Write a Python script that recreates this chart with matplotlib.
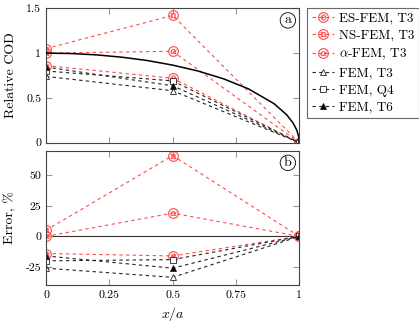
import matplotlib
matplotlib.use("Agg")
import matplotlib.pyplot as plt
from matplotlib.legend_handler import HandlerTuple

plt.rcParams['font.family'] = 'serif'
plt.rcParams['font.serif'] = ['cmr10', 'DejaVu Serif']
plt.rcParams['mathtext.fontset'] = 'cm'
plt.rcParams['axes.unicode_minus'] = False
plt.rcParams['axes.formatter.use_mathtext'] = True

# ---- data ----
x_pts = [0, 0.5, 1]
x_exact = [0, 0.1, 0.2, 0.3, 0.4, 0.5, 0.6, 0.7, 0.8, 0.9, 0.95, 0.975, 0.99, 0.998, 1.0]
cod_exact = [1.0, 0.995, 0.98, 0.954, 0.917, 0.866, 0.8, 0.714, 0.6, 0.436, 0.312, 0.222, 0.141, 0.063, 0.0]

cod_es = [0.86, 0.72, 0]
cod_ns = [1.05, 1.42, 0]
cod_alpha = [1.0, 1.02, 0]
cod_t3 = [0.74, 0.58, 0]
cod_q4 = [0.80, 0.69, 0]
cod_t6 = [0.845, 0.635, 0]

err_es = [-14, -16, 0]
err_ns = [5, 66, 0]
err_alpha = [0, 19, 0]
err_t3 = [-26, -33.5, 0]
err_q4 = [-20, -19, 0]
err_t6 = [-16, -26, 0]

labels = ['ES-FEM, T3', 'NS-FEM, T3', r'$\alpha$-FEM, T3', 'FEM, T3', 'FEM, Q4', 'FEM, T6']
x_ticks = [0, 0.25, 0.5, 0.75, 1]
x_ticklabels = ['0', '0.25', '0.5', '0.75', '1']
top_yticks = [0, 0.5, 1, 1.5]
top_yticklabels = ['0', '0.5', '1', '1.5']
bot_yticks = [-25, 0, 25, 50]
bot_yticklabels = ['-25', '0', '25', '50']

RED = '#ff4a4a'
DASH = (0, (3, 3))

fig = plt.figure(figsize=(4.19, 3.24), dpi=100)
ax1 = fig.add_axes([0.1098, 0.5596, 0.6045, 0.4148])
ax2 = fig.add_axes([0.1098, 0.1194, 0.6045, 0.4154])

def red_series(ax, y, letter):
    l1, = ax.plot(x_pts, y, linestyle=DASH, color=RED, lw=0.8, marker='o',
                  markersize=7, markerfacecolor='none', markeredgecolor=RED, markeredgewidth=0.8)
    l2, = ax.plot(x_pts, y, linestyle='none', marker=letter, markersize=4,
                  color=RED, markeredgewidth=0.3)
    return (l1, l2)

def black_series(ax, y, marker, filled):
    l, = ax.plot(x_pts, y, linestyle=DASH, color='#222222', lw=0.8, marker=marker,
                 markersize=4, markerfacecolor='black' if filled else 'white',
                 markeredgecolor='#222222', markeredgewidth=0.6)
    return l

for ax, data, exact in [(ax1, [cod_es, cod_ns, cod_alpha, cod_t3, cod_q4, cod_t6], True),
                        (ax2, [err_es, err_ns, err_alpha, err_t3, err_q4, err_t6], False)]:
    if exact:
        ax.plot(x_exact, cod_exact, color='black', lw=1.1, zorder=3)
    else:
        ax.axhline(0, color='#333333', lw=0.8, zorder=1)
    h = []
    h.append(red_series(ax, data[0], r'$\mathrm{e}$'))
    h.append(red_series(ax, data[1], r'$\mathrm{n}$'))
    h.append(red_series(ax, data[2], r'$\alpha$'))
    h.append(black_series(ax, data[3], '^', False))
    h.append(black_series(ax, data[4], 's', False))
    h.append(black_series(ax, data[5], '^', True))
    if exact:
        handles = h
    ax.set_xlim(0, 1)
    ax.set_xticks(x_ticks)
    ax.tick_params(direction='in', which='both', top=True, right=True, length=4,
                   color='#999999', labelsize=8.5)
    for s in ax.spines.values():
        s.set_color('#444444')
        s.set_linewidth(0.8)

ax1.set_ylim(0, 1.5)
ax1.set_yticks(top_yticks)
ax1.set_yticklabels(top_yticklabels)
ax1.set_xticklabels([])
ax1.set_ylabel('Relative COD', fontsize=10)

ax2.set_ylim(-40, 70)
ax2.set_yticks(bot_yticks)
ax2.set_yticklabels(bot_yticklabels)
ax2.set_xticklabels(x_ticklabels)
ax2.set_ylabel('Error, %', fontsize=10)
ax2.set_xlabel(r'$x/a$', fontsize=10)

for ax, lab in [(ax1, 'a'), (ax2, 'b')]:
    ax.text(0.955, 0.91, lab, transform=ax.transAxes, ha='center', va='center', fontsize=10,
            bbox=dict(boxstyle='circle,pad=0.12', fc='white', ec='black', lw=0.6))

ax1.yaxis.set_label_coords(-0.115, 0.5)
ax2.yaxis.set_label_coords(-0.115, 0.5)

leg = fig.legend(handles, labels, loc='upper left', bbox_to_anchor=(0.733, 0.976),
                 handler_map={tuple: HandlerTuple(ndivide=1, pad=0)},
                 fontsize=9.5, frameon=True, fancybox=False, edgecolor='#444444',
                 handlelength=1.7, handletextpad=0.35, labelspacing=0.38, borderpad=0.35,
                 borderaxespad=0)
leg.get_frame().set_linewidth(0.8)

fig.savefig('out.png', dpi=100)
